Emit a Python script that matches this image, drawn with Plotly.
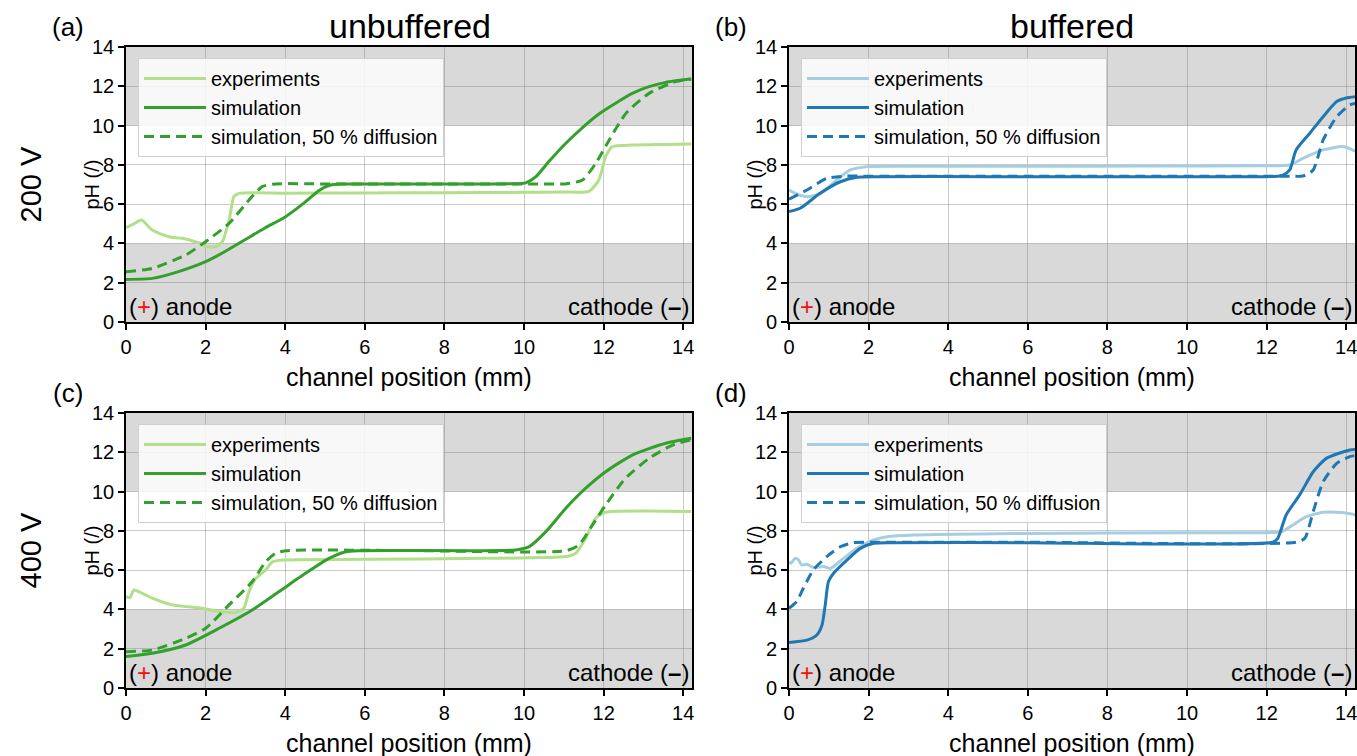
import plotly.graph_objects as go

W, H = 1357, 756
FONT = "Liberation Sans, Arial, sans-serif"

# ---------------- data ----------------
x_ticks = [0, 2, 4, 6, 8, 10, 12, 14]
y_ticks = [0, 2, 4, 6, 8, 10, 12, 14]
col_titles = ["unbuffered", "buffered"]
row_titles = ["200 V", "400 V"]
panel_labels = ["(a)", "(b)", "(c)", "(d)"]
legend_names = ["experiments", "simulation", "simulation, 50 % diffusion"]

# (a) 200 V unbuffered
a_exp_x = [0, 0.2, 0.39, 0.66, 1.08, 1.41, 1.88, 2.0, 2.25, 2.42, 2.59, 2.71, 2.84, 4, 6, 8, 10, 11.0, 11.63, 11.88, 12.05, 12.22, 12.72, 13.5, 14.2]
a_exp_y = [4.8, 5.0, 5.19, 4.68, 4.34, 4.26, 4.0, 3.84, 3.84, 4.09, 5.19, 6.38, 6.55, 6.56, 6.57, 6.58, 6.6, 6.62, 6.65, 7.23, 8.42, 8.93, 9.01, 9.04, 9.06]
a_sim_x = [0, 0.66, 1.3, 2.0, 2.5, 3.0, 3.5, 4.0, 4.5, 4.85, 5.1, 5.4, 7, 9, 9.8, 10.04, 10.3, 10.63, 11.05, 11.47, 11.88, 12.3, 12.72, 13.14, 13.56, 14.2]
a_sim_y = [2.17, 2.22, 2.55, 3.07, 3.6, 4.2, 4.8, 5.35, 6.1, 6.7, 6.95, 7.02, 7.02, 7.03, 7.04, 7.08, 7.4, 8.18, 9.1, 9.9, 10.59, 11.14, 11.64, 11.98, 12.2, 12.38]
a_dif_x = [0, 0.66, 1.5, 2.0, 2.59, 3.09, 3.42, 3.76, 5, 8, 10.5, 11.05, 11.47, 11.8, 12.14, 12.56, 13.14, 13.81, 14.2]
a_dif_y = [2.56, 2.73, 3.41, 4.09, 5.02, 6.21, 6.89, 7.03, 7.03, 7.03, 7.03, 7.03, 7.23, 8.07, 9.27, 10.62, 11.64, 12.24, 12.36]

# (b) 200 V buffered
b_exp_x = [0, 0.19, 0.45, 0.78, 1.2, 1.54, 1.96, 3, 6, 9, 12, 12.58, 12.91, 13.42, 13.92, 14.25]
b_exp_y = [6.72, 6.52, 6.38, 6.52, 7.23, 7.74, 7.91, 7.93, 7.93, 7.94, 7.95, 7.99, 8.33, 8.76, 8.93, 8.67]
b_sim_x = [0, 0.28, 0.78, 1.29, 1.71, 2.2, 5, 10, 12.2, 12.41, 12.58, 12.74, 13.08, 13.42, 13.76, 14.0, 14.25]
b_sim_y = [5.62, 5.79, 6.55, 7.14, 7.37, 7.4, 7.4, 7.4, 7.41, 7.48, 7.74, 8.76, 9.6, 10.45, 11.22, 11.4, 11.47]
b_dif_x = [0, 0.45, 0.95, 1.46, 2, 6, 12.6, 12.91, 13.17, 13.42, 13.76, 14.09, 14.25]
b_dif_y = [6.25, 6.72, 7.31, 7.43, 7.42, 7.42, 7.42, 7.43, 7.74, 9.27, 10.45, 11.05, 11.13]

# (c) 400 V unbuffered
c_exp_x = [0, 0.1, 0.2, 0.41, 0.66, 1.16, 1.92, 2.34, 2.76, 2.96, 3.09, 3.26, 3.51, 3.68, 3.93, 6, 9, 11.05, 11.3, 11.55, 11.8, 12.05, 13.14, 14.2]
c_exp_y = [4.65, 4.6, 4.99, 4.82, 4.57, 4.23, 4.06, 3.89, 3.85, 4.06, 4.9, 5.58, 6.01, 6.43, 6.52, 6.55, 6.6, 6.69, 6.86, 7.62, 8.64, 8.95, 9.01, 8.98]
c_sim_x = [0, 0.66, 1.5, 2.34, 3.17, 3.84, 4.51, 5.1, 5.52, 5.85, 7, 9.79, 10.13, 10.55, 11.05, 11.55, 12.05, 12.72, 13.56, 14.2]
c_sim_y = [1.6, 1.77, 2.19, 3.04, 3.97, 4.9, 5.84, 6.6, 6.94, 6.99, 7.0, 7.03, 7.2, 7.96, 9.15, 10.17, 11.01, 11.86, 12.46, 12.71]
c_dif_x = [0, 0.66, 1.5, 2.0, 2.59, 3.17, 3.51, 3.76, 4.01, 7, 11.05, 11.38, 11.72, 12.05, 12.55, 13.14, 13.73, 14.2]
c_dif_y = [1.85, 1.93, 2.53, 3.04, 4.23, 5.41, 6.43, 6.86, 6.99, 7.0, 6.99, 7.28, 8.3, 9.32, 10.68, 11.69, 12.37, 12.63]

# (d) 400 V buffered
d_exp_x = [0, 0.05, 0.15, 0.24, 0.32, 0.45, 0.61, 0.87, 1.04, 1.37, 1.71, 2.13, 2.47, 3.14, 6, 10, 12.2, 12.41, 12.66, 13.0, 13.42, 13.9, 14.26]
d_exp_y = [6.43, 6.35, 6.6, 6.52, 6.26, 6.3, 6.13, 6.18, 6.09, 6.6, 7.11, 7.54, 7.7, 7.79, 7.87, 7.9, 7.92, 7.99, 8.3, 8.72, 8.95, 8.93, 8.81]
d_sim_x = [0, 0.45, 0.7, 0.83, 0.91, 0.99, 1.12, 1.46, 1.79, 2.13, 2.6, 6, 12.15, 12.28, 12.49, 12.83, 13.17, 13.5, 14.09, 14.26]
d_sim_y = [2.32, 2.44, 2.7, 3.21, 4.23, 5.41, 5.84, 6.52, 7.11, 7.37, 7.4, 7.4, 7.42, 7.62, 8.81, 9.83, 11.01, 11.69, 12.12, 12.15]
d_dif_x = [0, 0.19, 0.36, 0.61, 0.95, 1.29, 1.62, 2.2, 6, 12.74, 12.96, 13.17, 13.42, 13.76, 14.09, 14.26]
d_dif_y = [4.06, 4.39, 5.08, 6.01, 6.69, 7.19, 7.4, 7.42, 7.42, 7.42, 7.62, 8.98, 10.5, 11.44, 11.78, 11.83]

green_light, green = "#b2df8a", "#33a02c"
blue_light, blue = "#a6cee3", "#1f78b4"

panels = [
    dict(exp=(a_exp_x, a_exp_y), sim=(a_sim_x, a_sim_y), dif=(a_dif_x, a_dif_y), c=(green_light, green)),
    dict(exp=(b_exp_x, b_exp_y), sim=(b_sim_x, b_sim_y), dif=(b_dif_x, b_dif_y), c=(blue_light, blue)),
    dict(exp=(c_exp_x, c_exp_y), sim=(c_sim_x, c_sim_y), dif=(c_dif_x, c_dif_y), c=(green_light, green)),
    dict(exp=(d_exp_x, d_exp_y), sim=(d_sim_x, d_sim_y), dif=(d_dif_x, d_dif_y), c=(blue_light, blue)),
]

# ---------------- layout geometry (pixels) ----------------
col_px = [(126, 692), (789, 1355)]
row_px = [(47, 322), (413, 688)]


def px(x):
    return x / W


def py(y):
    return 1 - y / H


fig = go.Figure()
layout = dict(
    width=W, height=H, margin=dict(l=0, r=0, t=0, b=0, autoexpand=False),
    paper_bgcolor="white", plot_bgcolor="white",
    font=dict(family=FONT, size=20, color="black"),
    shapes=[], annotations=[],
)

for i, p in enumerate(panels):
    r, cidx = divmod(i, 2)
    n = "" if i == 0 else str(i + 1)
    xa, ya = "x" + n, "y" + n
    leg = "legend" + n
    cl, cd = p["c"]
    fig.add_trace(go.Scatter(x=p["exp"][0], y=p["exp"][1], mode="lines", name=legend_names[0],
                             line=dict(color=cl, width=3, shape="spline", smoothing=0.6),
                             xaxis=xa, yaxis=ya, legend=leg))
    fig.add_trace(go.Scatter(x=p["sim"][0], y=p["sim"][1], mode="lines", name=legend_names[1],
                             line=dict(color=cd, width=3, shape="spline", smoothing=0.6),
                             xaxis=xa, yaxis=ya, legend=leg))
    fig.add_trace(go.Scatter(x=p["dif"][0], y=p["dif"][1], mode="lines", name=legend_names[2],
                             line=dict(color=cd, width=3, dash="10px,6px", shape="spline", smoothing=0.6),
                             xaxis=xa, yaxis=ya, legend=leg))

    x0, x1 = col_px[cidx]
    y0, y1 = row_px[r]
    axcommon = dict(showline=True, linecolor="black", linewidth=1.6, mirror=True,
                    ticks="outside", ticklen=6, tickwidth=1.5, tickcolor="black",
                    showgrid=True, gridcolor="rgba(128,128,128,0.42)", gridwidth=1,
                    zeroline=False, automargin=False, ticklabeloverflow="allow",
                    tickfont=dict(size=20, family=FONT, color="black"))
    layout["xaxis" + n] = dict(axcommon, domain=[px(x0), px(x1)], range=[0, 14.22],
                              tickvals=x_ticks, anchor=ya)
    layout["yaxis" + n] = dict(axcommon, domain=[py(y1), py(y0)], range=[0, 14],
                              tickvals=y_ticks, anchor=xa)
    layout[leg] = dict(x=px(x0 + 12), y=py(y0 + 11), xanchor="left", yanchor="top",
                       bgcolor="rgba(255,255,255,0.82)", bordercolor="#d0d0d0", borderwidth=1,
                       font=dict(size=20, family=FONT), tracegroupgap=0, itemwidth=62)
    # grey bands
    for (b0, b1) in [(0, 4), (10, 14)]:
        layout["shapes"].append(dict(type="rect", xref=xa + " domain", yref=ya, x0=0, x1=1,
                                     y0=b0, y1=b1, fillcolor="#d9d9d9", line=dict(width=0),
                                     layer="below"))
    # anode / cathode
    layout["annotations"].append(dict(xref=xa + " domain", yref=ya + " domain", x=0.002, y=0.0,
                                      yanchor="bottom", xanchor="left", showarrow=False,
                                      text="(<span style='color:#ee1111'>+</span>) anode",
                                      font=dict(size=24, family=FONT)))
    layout["annotations"].append(dict(xref=xa + " domain", yref=ya + " domain", x=0.998, y=0.0,
                                      yanchor="bottom", xanchor="right", showarrow=False,
                                      text="cathode (<b>–</b>)",
                                      font=dict(size=24, family=FONT)))
    # axis titles
    layout["annotations"].append(dict(xref="paper", yref="paper", x=px((x0 + x1) / 2), y=py(y1 + 55),
                                      xanchor="center", yanchor="middle", showarrow=False,
                                      text="channel position (mm)", font=dict(size=25, family=FONT)))
    layout["annotations"].append(dict(xref="paper", yref="paper", x=px(x0 - 35), y=py((y0 + y1) / 2),
                                      xanchor="center", yanchor="middle", showarrow=False, textangle=-90,
                                      text="pH (/)", font=dict(size=20, family=FONT)))
    # panel label
    layout["annotations"].append(dict(xref="paper", yref="paper", x=px(x0 - 58), y=py(y0 - 20),
                                      xanchor="center", yanchor="middle", showarrow=False,
                                      text=panel_labels[i], font=dict(size=26, family=FONT)))

# column titles
for cidx, t in enumerate(col_titles):
    x0, x1 = col_px[cidx]
    layout["annotations"].append(dict(xref="paper", yref="paper", x=px((x0 + x1) / 2 + (1 if cidx == 0 else 0)), y=py(26),
                                      xanchor="center", yanchor="middle", showarrow=False,
                                      text=t, font=dict(size=34, family=FONT)))
# row titles
for r, t in enumerate(row_titles):
    y0, y1 = row_px[r]
    layout["annotations"].append(dict(xref="paper", yref="paper", x=px(30), y=py((y0 + y1) / 2),
                                      xanchor="center", yanchor="middle", showarrow=False, textangle=-90,
                                      text=t, font=dict(size=29, family=FONT)))

fig.update_layout(**layout)
fig.write_html("out.html")
